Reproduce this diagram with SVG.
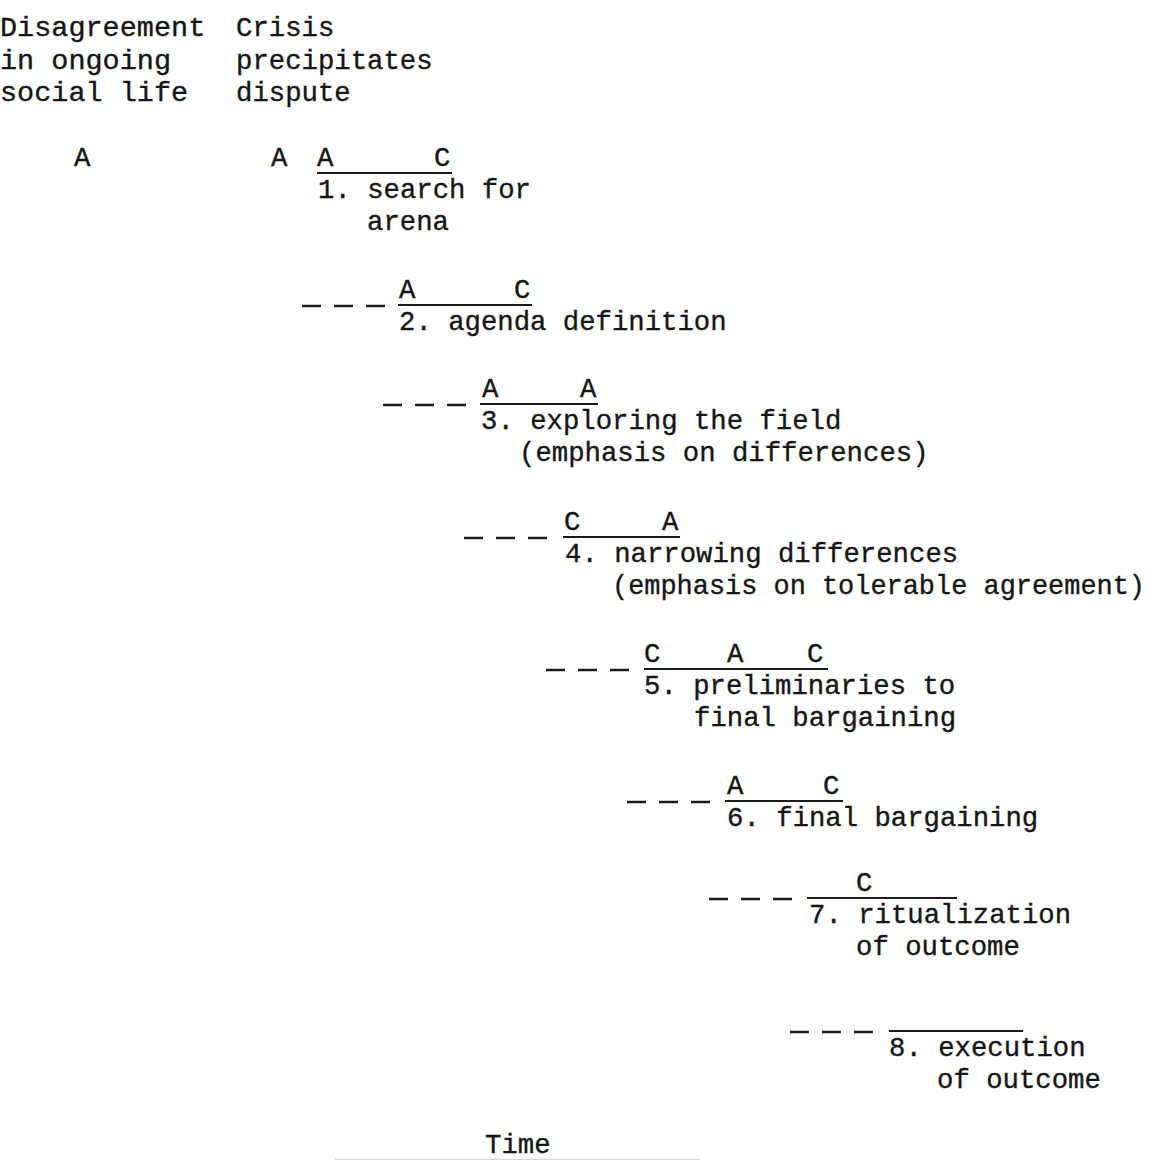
<svg xmlns="http://www.w3.org/2000/svg" width="1151" height="1160" viewBox="0 0 1151 1160">
  <style>
    text { font-family: "Liberation Mono", "Courier New", monospace; font-size: 27.3px; fill: #151515; stroke: #151515; stroke-width: 0.35px; }
    .wide { font-size: 28.5px; }
    .bar { stroke: #1a1a1a; stroke-width: 2; fill: none; }
    .dash { stroke: #1a1a1a; stroke-width: 2.4; fill: none; stroke-dasharray: 19 13; }
    .axis { stroke: #d6d6d6; stroke-width: 1.5; }
  </style>
  <rect width="1151" height="1160" fill="#ffffff"/>

  <!-- column headings -->
  <g id="heading-disagreement">
    <text class="wide" x="0" y="36">Disagreement</text>
    <text class="wide" x="0" y="68.5">in ongoing</text>
    <text class="wide" x="0" y="101">social life</text>
    <text x="74" y="166">A</text>
  </g>
  <g id="heading-crisis">
    <text x="236" y="36">Crisis</text>
    <text x="236" y="68.5">precipitates</text>
    <text x="236" y="101">dispute</text>
    <text x="271" y="166">A</text>
  </g>

  <!-- stages -->
  <g id="stage-1">
    <text x="317" y="166">A</text>
    <text x="434" y="166">C</text>
    <line class="bar" x1="317" y1="173" x2="452" y2="173"/>
    <text x="318" y="198">1. search for</text>
    <text x="367" y="230">arena</text>
  </g>
  <g id="stage-2">
    <text x="399" y="298">A</text>
    <text x="514" y="298">C</text>
    <line class="bar" x1="398" y1="305" x2="532" y2="305"/>
    <text x="399" y="330">2. agenda definition</text>
  </g>
  <g id="stage-3">
    <text x="482" y="397">A</text>
    <text x="580" y="397">A</text>
    <line class="bar" x1="480" y1="404" x2="598" y2="404"/>
    <text x="481" y="429">3. exploring the field</text>
    <text x="519" y="461">(emphasis on differences)</text>
  </g>
  <g id="stage-4">
    <text x="564" y="530">C</text>
    <text x="662" y="530">A</text>
    <line class="bar" x1="563" y1="537" x2="680" y2="537"/>
    <text x="565" y="562">4. narrowing differences</text>
    <text x="612" y="594" textLength="533" lengthAdjust="spacingAndGlyphs">(emphasis on tolerable agreement)</text>
  </g>
  <g id="stage-5">
    <text x="644" y="662">C</text>
    <text x="727" y="662">A</text>
    <text x="807" y="662">C</text>
    <line class="bar" x1="644" y1="669" x2="828" y2="669"/>
    <text x="644" y="694">5. preliminaries to</text>
    <text x="694" y="726">final bargaining</text>
  </g>
  <g id="stage-6">
    <text x="727" y="794">A</text>
    <text x="823" y="794">C</text>
    <line class="bar" x1="725" y1="801" x2="843" y2="801"/>
    <text x="727" y="826">6. final bargaining</text>
  </g>
  <g id="stage-7">
    <text x="856" y="891">C</text>
    <line class="bar" x1="807" y1="898" x2="957" y2="898"/>
    <text x="809" y="923">7. ritualization</text>
    <text x="856" y="955">of outcome</text>
  </g>
  <g id="stage-8">
    <line class="bar" x1="889" y1="1031" x2="1023" y2="1031"/>
    <text x="889" y="1056">8. execution</text>
    <text x="937" y="1088">of outcome</text>
  </g>

  <!-- dashed links between successive stages -->
  <g id="connectors">
    <line class="dash" x1="302" y1="306" x2="385" y2="306"/>
    <line class="dash" x1="383" y1="405" x2="466" y2="405"/>
    <line class="dash" x1="464" y1="538" x2="547" y2="538"/>
    <line class="dash" x1="546" y1="670" x2="629" y2="670"/>
    <line class="dash" x1="627" y1="802" x2="710" y2="802"/>
    <line class="dash" x1="709" y1="899" x2="792" y2="899"/>
    <line class="dash" x1="790" y1="1032" x2="873" y2="1032"/>
  </g>

  <!-- time axis -->
  <g id="time-axis">
    <text x="485" y="1153">Time</text>
    <line class="axis" x1="335" y1="1159.5" x2="700" y2="1159.5"/>
  </g>
</svg>
